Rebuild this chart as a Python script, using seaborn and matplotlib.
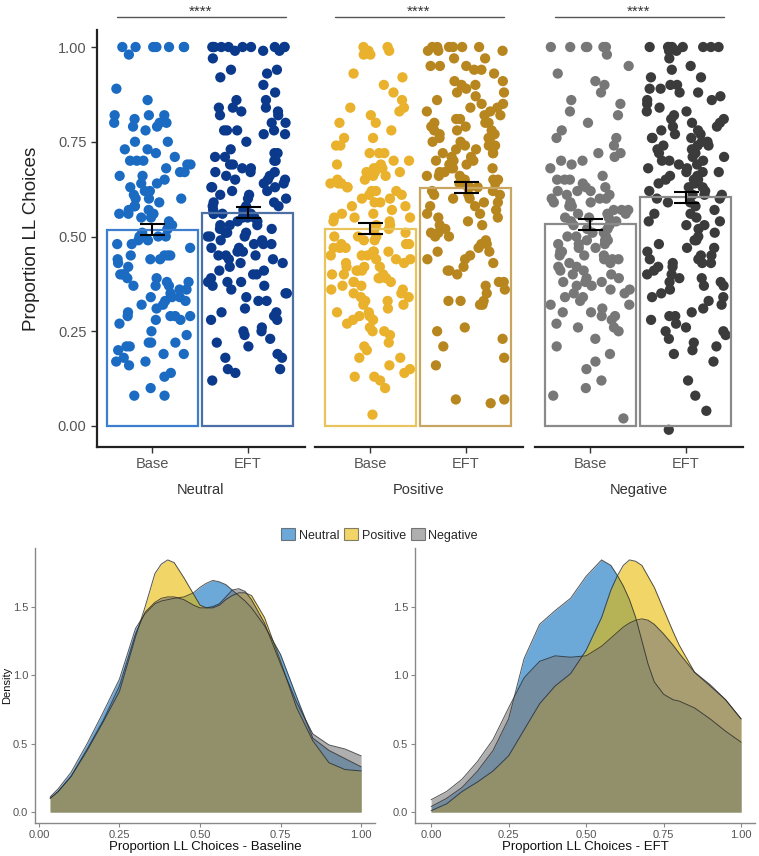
import numpy as np
import pandas as pd
import seaborn as sns
import matplotlib.pyplot as plt
from matplotlib.patches import Patch

sns.set_style('white')
plt.rcParams['font.family'] = ['Liberation Sans', 'DejaVu Sans']

conditions = ['Neutral', 'Positive', 'Negative']
sessions = ['Base', 'EFT']

# proportion of LL choices per participant
neutral_base = [1.00, 1.00, 1.00, 1.00, 1.00, 1.00, 1.00, 0.98, 0.89, 0.86,
                0.82, 0.82, 0.82, 0.81, 0.80, 0.80, 0.80, 0.79, 0.79, 0.78,
                0.75, 0.75, 0.73, 0.73, 0.72, 0.71, 0.70, 0.70, 0.70, 0.69,
                0.69, 0.68, 0.67, 0.67, 0.66, 0.66, 0.65, 0.64, 0.64, 0.63,
                0.62, 0.62, 0.61, 0.60, 0.60, 0.60, 0.59, 0.58, 0.58, 0.57,
                0.57, 0.56, 0.56, 0.56, 0.55, 0.55, 0.54, 0.53, 0.52, 0.52,
                0.51, 0.50, 0.50, 0.50, 0.49, 0.49, 0.48, 0.48, 0.47, 0.45,
                0.45, 0.45, 0.45, 0.44, 0.44, 0.44, 0.43, 0.42, 0.40, 0.40,
                0.40, 0.39, 0.39, 0.38, 0.38, 0.37, 0.37, 0.37, 0.36, 0.36,
                0.35, 0.34, 0.34, 0.34, 0.33, 0.33, 0.32, 0.32, 0.31, 0.30,
                0.29, 0.29, 0.29, 0.29, 0.28, 0.28, 0.27, 0.25, 0.24, 0.22,
                0.22, 0.22, 0.21, 0.21, 0.20, 0.19, 0.19, 0.18, 0.17, 0.17,
                0.16, 0.14, 0.13, 0.10, 0.08, 0.08]
neutral_eft = [1.00, 1.00, 1.00, 1.00, 1.00, 1.00, 1.00, 1.00, 1.00, 1.00,
               0.99, 0.99, 0.99, 0.97, 0.94, 0.94, 0.93, 0.92, 0.90, 0.88,
               0.86, 0.86, 0.84, 0.84, 0.84, 0.83, 0.83, 0.82, 0.82, 0.80,
               0.80, 0.78, 0.78, 0.78, 0.78, 0.77, 0.77, 0.75, 0.73, 0.72,
               0.72, 0.71, 0.71, 0.70, 0.70, 0.69, 0.69, 0.68, 0.68, 0.67,
               0.67, 0.67, 0.66, 0.66, 0.65, 0.65, 0.65, 0.64, 0.64, 0.63,
               0.63, 0.63, 0.62, 0.62, 0.61, 0.61, 0.60, 0.60, 0.59, 0.59,
               0.58, 0.58, 0.58, 0.57, 0.57, 0.56, 0.56, 0.56, 0.56, 0.55,
               0.55, 0.55, 0.54, 0.54, 0.53, 0.53, 0.53, 0.52, 0.52, 0.51,
               0.51, 0.51, 0.50, 0.50, 0.50, 0.49, 0.49, 0.48, 0.48, 0.48,
               0.47, 0.47, 0.46, 0.46, 0.45, 0.45, 0.45, 0.44, 0.44, 0.43,
               0.43, 0.42, 0.41, 0.41, 0.40, 0.40, 0.39, 0.38, 0.38, 0.38,
               0.37, 0.37, 0.36, 0.35, 0.35, 0.34, 0.33, 0.33, 0.31, 0.30,
               0.30, 0.29, 0.28, 0.28, 0.26, 0.25, 0.25, 0.24, 0.23, 0.22,
               0.21, 0.19, 0.18, 0.18, 0.15, 0.15, 0.14, 0.12]
positive_base = [1.00, 1.00, 0.99, 0.99, 0.98, 0.98, 0.93, 0.92, 0.90, 0.88,
                 0.86, 0.84, 0.84, 0.83, 0.82, 0.80, 0.80, 0.78, 0.76, 0.76,
                 0.74, 0.74, 0.72, 0.72, 0.72, 0.70, 0.70, 0.69, 0.69, 0.68,
                 0.68, 0.68, 0.67, 0.67, 0.67, 0.66, 0.66, 0.65, 0.65, 0.64,
                 0.64, 0.64, 0.63, 0.63, 0.62, 0.62, 0.62, 0.61, 0.61, 0.60,
                 0.60, 0.59, 0.59, 0.58, 0.58, 0.57, 0.56, 0.56, 0.55, 0.55,
                 0.55, 0.54, 0.54, 0.53, 0.53, 0.52, 0.52, 0.51, 0.50, 0.50,
                 0.50, 0.49, 0.49, 0.48, 0.48, 0.48, 0.47, 0.47, 0.47, 0.46,
                 0.46, 0.46, 0.45, 0.45, 0.45, 0.44, 0.44, 0.44, 0.43, 0.43,
                 0.42, 0.42, 0.42, 0.41, 0.41, 0.41, 0.40, 0.40, 0.40, 0.39,
                 0.39, 0.39, 0.38, 0.38, 0.38, 0.37, 0.37, 0.36, 0.36, 0.35,
                 0.35, 0.34, 0.34, 0.33, 0.33, 0.32, 0.32, 0.31, 0.30, 0.30,
                 0.29, 0.29, 0.28, 0.28, 0.27, 0.26, 0.25, 0.25, 0.24, 0.22,
                 0.21, 0.20, 0.18, 0.18, 0.16, 0.15, 0.14, 0.13, 0.13, 0.12,
                 0.10, 0.03]
positive_eft = [1.00, 1.00, 1.00, 1.00, 1.00, 1.00, 0.99, 0.99, 0.99, 0.97,
                0.97, 0.95, 0.95, 0.95, 0.94, 0.94, 0.93, 0.91, 0.91, 0.90,
                0.90, 0.89, 0.88, 0.88, 0.87, 0.86, 0.85, 0.85, 0.84, 0.84,
                0.83, 0.83, 0.82, 0.82, 0.81, 0.81, 0.80, 0.80, 0.80, 0.79,
                0.79, 0.78, 0.78, 0.78, 0.77, 0.77, 0.76, 0.76, 0.76, 0.75,
                0.75, 0.74, 0.74, 0.74, 0.73, 0.73, 0.72, 0.72, 0.72, 0.71,
                0.71, 0.70, 0.70, 0.70, 0.69, 0.69, 0.68, 0.68, 0.68, 0.67,
                0.67, 0.66, 0.66, 0.66, 0.65, 0.65, 0.65, 0.64, 0.64, 0.63,
                0.63, 0.63, 0.62, 0.62, 0.61, 0.61, 0.61, 0.60, 0.60, 0.59,
                0.59, 0.58, 0.58, 0.57, 0.56, 0.56, 0.55, 0.55, 0.54, 0.53,
                0.53, 0.52, 0.51, 0.51, 0.50, 0.50, 0.49, 0.48, 0.48, 0.47,
                0.46, 0.46, 0.45, 0.44, 0.44, 0.43, 0.42, 0.41, 0.41, 0.40,
                0.38, 0.38, 0.37, 0.36, 0.35, 0.33, 0.33, 0.33, 0.32, 0.32,
                0.26, 0.25, 0.23, 0.21, 0.18, 0.16, 0.07, 0.07, 0.06]
negative_base = [1.00, 1.00, 1.00, 1.00, 1.00, 1.00, 0.98, 0.95, 0.93, 0.91,
                 0.90, 0.88, 0.86, 0.85, 0.83, 0.82, 0.80, 0.78, 0.76, 0.76,
                 0.74, 0.72, 0.72, 0.71, 0.70, 0.70, 0.69, 0.68, 0.66, 0.65,
                 0.65, 0.65, 0.64, 0.63, 0.63, 0.62, 0.62, 0.62, 0.61, 0.61,
                 0.60, 0.60, 0.60, 0.59, 0.59, 0.59, 0.58, 0.58, 0.58, 0.57,
                 0.57, 0.57, 0.56, 0.56, 0.56, 0.55, 0.55, 0.55, 0.54, 0.54,
                 0.53, 0.53, 0.52, 0.52, 0.51, 0.51, 0.50, 0.50, 0.50, 0.49,
                 0.49, 0.49, 0.48, 0.48, 0.48, 0.47, 0.47, 0.46, 0.46, 0.45,
                 0.45, 0.45, 0.44, 0.44, 0.44, 0.43, 0.43, 0.42, 0.42, 0.41,
                 0.41, 0.40, 0.40, 0.39, 0.39, 0.38, 0.38, 0.38, 0.37, 0.37,
                 0.36, 0.36, 0.35, 0.35, 0.34, 0.34, 0.33, 0.32, 0.32, 0.31,
                 0.30, 0.30, 0.29, 0.29, 0.28, 0.27, 0.26, 0.26, 0.25, 0.23,
                 0.21, 0.19, 0.17, 0.15, 0.12, 0.10, 0.08, 0.02]
negative_eft = [1.00, 1.00, 1.00, 1.00, 1.00, 1.00, 1.00, 1.00, 0.99, 0.99,
                0.97, 0.95, 0.94, 0.92, 0.92, 0.90, 0.90, 0.89, 0.89, 0.88,
                0.88, 0.87, 0.86, 0.86, 0.85, 0.84, 0.83, 0.83, 0.82, 0.81,
                0.81, 0.80, 0.80, 0.79, 0.79, 0.78, 0.78, 0.77, 0.77, 0.76,
                0.76, 0.76, 0.75, 0.75, 0.74, 0.74, 0.74, 0.73, 0.73, 0.72,
                0.72, 0.71, 0.71, 0.70, 0.70, 0.70, 0.69, 0.69, 0.68, 0.68,
                0.67, 0.67, 0.67, 0.66, 0.66, 0.65, 0.65, 0.65, 0.64, 0.64,
                0.63, 0.63, 0.62, 0.62, 0.61, 0.61, 0.61, 0.60, 0.60, 0.59,
                0.59, 0.58, 0.57, 0.56, 0.56, 0.55, 0.54, 0.54, 0.53, 0.53,
                0.52, 0.51, 0.50, 0.49, 0.49, 0.48, 0.47, 0.47, 0.46, 0.45,
                0.45, 0.44, 0.44, 0.43, 0.43, 0.43, 0.42, 0.42, 0.41, 0.40,
                0.40, 0.39, 0.39, 0.38, 0.38, 0.37, 0.37, 0.36, 0.35, 0.34,
                0.34, 0.33, 0.32, 0.31, 0.30, 0.29, 0.29, 0.28, 0.27, 0.26,
                0.25, 0.25, 0.24, 0.23, 0.22, 0.21, 0.20, 0.19, 0.17, 0.12,
                0.08, 0.04, -0.01]

# bar heights (means) and standard errors
base_means = [0.518, 0.521, 0.532]
eft_means = [0.563, 0.629, 0.603]
base_se = [0.015, 0.015, 0.015]
eft_se = [0.015, 0.015, 0.015]

# density curves
base_x = [0.035, 0.06, 0.10, 0.15, 0.20, 0.25, 0.30, 0.33, 0.36, 0.38,
          0.40, 0.42, 0.45, 0.48, 0.50, 0.52, 0.54, 0.56, 0.58, 0.60,
          0.62, 0.64, 0.66, 0.70, 0.75, 0.80, 0.85, 0.90, 0.95, 1.00]
base_dens_neutral = [0.11, 0.17, 0.29, 0.50, 0.73, 0.97, 1.34, 1.45, 1.52, 1.54,
                     1.55, 1.56, 1.57, 1.60, 1.64, 1.67, 1.69, 1.68, 1.66, 1.62,
                     1.58, 1.54, 1.49, 1.36, 1.15, 0.84, 0.54, 0.45, 0.39, 0.33]
base_dens_positive = [0.10, 0.15, 0.26, 0.45, 0.66, 0.88, 1.28, 1.50, 1.74, 1.81,
                      1.84, 1.82, 1.71, 1.59, 1.51, 1.49, 1.49, 1.51, 1.55, 1.58,
                      1.60, 1.60, 1.58, 1.42, 1.10, 0.76, 0.52, 0.36, 0.31, 0.30]
base_dens_negative = [0.10, 0.15, 0.26, 0.46, 0.67, 0.92, 1.30, 1.46, 1.53, 1.56,
                      1.57, 1.57, 1.55, 1.51, 1.49, 1.49, 1.50, 1.52, 1.57, 1.62,
                      1.63, 1.61, 1.55, 1.38, 1.08, 0.80, 0.57, 0.49, 0.46, 0.41]

eft_x = [0.00, 0.05, 0.10, 0.15, 0.20, 0.25, 0.30, 0.35, 0.40, 0.45,
         0.50, 0.55, 0.58, 0.60, 0.62, 0.64, 0.66, 0.68, 0.70, 0.72,
         0.75, 0.78, 0.80, 0.85, 0.90, 0.95, 1.00]
eft_dens_neutral = [0.04, 0.10, 0.18, 0.30, 0.45, 0.68, 1.12, 1.37, 1.47, 1.56,
                    1.72, 1.84, 1.80, 1.73, 1.65, 1.55, 1.42, 1.25, 1.08, 0.95,
                    0.86, 0.82, 0.81, 0.76, 0.68, 0.59, 0.51]
eft_dens_positive = [0.01, 0.06, 0.15, 0.22, 0.30, 0.41, 0.60, 0.79, 0.92, 1.01,
                     1.18, 1.42, 1.62, 1.72, 1.80, 1.84, 1.83, 1.80, 1.72, 1.64,
                     1.48, 1.32, 1.22, 1.02, 0.92, 0.82, 0.68]
eft_dens_negative = [0.09, 0.15, 0.24, 0.37, 0.53, 0.76, 0.98, 1.10, 1.14, 1.13,
                     1.14, 1.21, 1.27, 1.31, 1.35, 1.38, 1.40, 1.41, 1.40, 1.37,
                     1.30, 1.22, 1.16, 1.02, 0.93, 0.82, 0.68]

points = {'Neutral': (neutral_base, neutral_eft),
          'Positive': (positive_base, positive_eft),
          'Negative': (negative_base, negative_eft)}
point_colors = {'Neutral': ['#1b6bc2', '#0b3a8c'],
                'Positive': ['#e9b12c', '#b8861f'],
                'Negative': ['#777777', '#3b3b3b']}
bar_colors = {'Neutral': ['#3d7fcf', '#4c6fa6'],
              'Positive': ['#e8c45c', '#c9a562'],
              'Negative': ['#8a8a8a', '#8a8a8a']}
fill_colors = {'Neutral': '#0a6ebe', 'Positive': '#e9b900', 'Negative': '#7a7a7a'}

fig = plt.figure(figsize=(7.59, 8.56), dpi=100)
np.random.seed(3)

lefts = [97 / 759, 315 / 759, 535 / 759]
for i, cond in enumerate(conditions):
    ax = fig.add_axes([lefts[i], 0.478, 208 / 759, 0.487])
    b, e = points[cond]
    df = pd.DataFrame({'session': ['Base'] * len(b) + ['EFT'] * len(e),
                       'value': b + e})
    sns.stripplot(data=df, x='session', y='value', hue='session', order=sessions,
                  palette=point_colors[cond], jitter=0.42, size=7.4, linewidth=0,
                  legend=False, ax=ax, zorder=1)
    sns.barplot(x=sessions, y=[base_means[i], eft_means[i]], hue=sessions,
                palette=bar_colors[cond], fill=False, width=0.95, linewidth=1.6,
                errorbar=None, legend=False, ax=ax, zorder=3)
    ax.errorbar([0, 1], [base_means[i], eft_means[i]], yerr=[base_se[i], eft_se[i]],
                fmt='none', ecolor='black', elinewidth=1.5, capsize=9, capthick=1.5,
                zorder=4)
    ax.set_xlim(-0.58, 1.6)
    ax.set_ylim(-0.055, 1.045)
    # significance bracket
    ax.plot([-0.37, 1.40], [1.08, 1.08], color='#555555', lw=1, clip_on=False)
    ax.text(0.5, 1.074, '****', ha='center', va='bottom', fontsize=11,
            color='#333333', clip_on=False)
    ax.set_xlabel(cond, fontsize=10.5, color='#333333', labelpad=9)
    ax.tick_params(axis='x', length=4, width=1, color='#333333', labelsize=10.5,
                   labelcolor='#555555', pad=3, bottom=True)
    for s in ['top', 'right']:
        ax.spines[s].set_visible(False)
    ax.spines['bottom'].set_color('#222222')
    ax.spines['bottom'].set_linewidth(1.6)
    if i == 0:
        ax.spines['left'].set_color('#222222')
        ax.spines['left'].set_linewidth(1.6)
        ax.set_yticks([0, 0.25, 0.5, 0.75, 1.0])
        ax.set_yticklabels(['0.00', '0.25', '0.50', '0.75', '1.00'])
        ax.tick_params(axis='y', length=4, width=1, color='#333333', labelsize=10.5,
                       labelcolor='#555555', left=True)
        ax.set_ylabel('Proportion LL Choices', fontsize=13.5, color='#222222',
                      labelpad=13)
    else:
        ax.spines['left'].set_visible(False)
        ax.set_yticks([])
        ax.set_ylabel('')

# density panels
dens_panels = [
    (35 / 759, base_x, [base_dens_neutral, base_dens_positive, base_dens_negative],
     'Proportion LL Choices - Baseline', (-0.012, 1.043)),
    (415 / 759, eft_x, [eft_dens_neutral, eft_dens_positive, eft_dens_negative],
     'Proportion LL Choices - EFT', (-0.052, 1.045)),
]
for j, (left, xs, curves, xlabel, xlim) in enumerate(dens_panels):
    ax = fig.add_axes([left, 1 - 823 / 856, 340 / 759, 275 / 856])
    for cond, curve in zip(conditions, curves):
        ax.fill_between(xs, 0, curve, color=fill_colors[cond], alpha=0.6, linewidth=0)
        sns.lineplot(x=xs, y=curve, color='#2a2a2a', lw=0.7, alpha=0.8, ax=ax)
    ax.set_xlim(*xlim)
    ax.set_ylim(-0.08, 1.927)
    ax.set_xticks([0, 0.25, 0.5, 0.75, 1.0])
    ax.set_xticklabels(['0.00', '0.25', '0.50', '0.75', '1.00'])
    ax.set_yticks([0, 0.5, 1.0, 1.5])
    ax.set_yticklabels(['0.0', '0.5', '1.0', '1.5'])
    ax.tick_params(length=3, width=0.8, color='#888888', labelsize=8,
                   labelcolor='#555555', pad=2, left=True, bottom=True)
    for s in ['top', 'right']:
        ax.spines[s].set_visible(False)
    for s in ['left', 'bottom']:
        ax.spines[s].set_color('#888888')
        ax.spines[s].set_linewidth(1)
    ax.set_xlabel(xlabel, fontsize=9.5, color='#111111', labelpad=1)
    if j == 0:
        ax.set_ylabel('Density', fontsize=8, color='#111111')
        ax.yaxis.set_label_coords(-0.068, 0.5)
    else:
        ax.set_ylabel('')

handles = [Patch(facecolor=fill_colors[c], alpha=0.6, edgecolor='#333333',
                 linewidth=0.8, label=c) for c in conditions]
fig.legend(handles=handles, ncol=3, loc='center', bbox_to_anchor=(0.5, 1 - 535 / 856),
           frameon=False, fontsize=9, handlelength=1.1, handleheight=1.1,
           handletextpad=0.3, columnspacing=0.4)

fig.savefig('out.png', dpi=100)
